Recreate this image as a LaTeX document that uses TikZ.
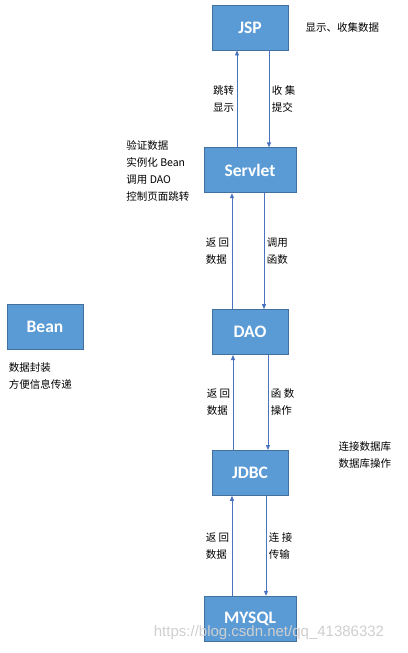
\documentclass[tikz,border=0pt]{standalone}
\usepackage{fontspec}
\setmainfont{Noto Sans CJK SC}
\newfontfamily\boxfont{Carlito}
\newfontfamily\markfont{Liberation Sans}
\usepackage{xcolor}
\usetikzlibrary{positioning, arrows.meta}
\definecolor{layerfill}{HTML}{5B9BD5}
\definecolor{layerdraw}{HTML}{41719C}
\definecolor{linkblue}{HTML}{4A72BE}
\definecolor{markgray}{HTML}{CFCFCF}

\begin{document}
\begin{tikzpicture}[
    x=1pt, y=1pt,
    every node/.style={font=\fontsize{10.5}{17}\selectfont, align=left, inner sep=0pt},
    layer/.style ={draw=layerdraw, fill=layerfill, line width=0.8pt, text=white,
                   font=\boxfont\bfseries\fontsize{17.5}{19}\selectfont, minimum height=45pt},
    narrow/.style={layer, minimum width=76pt},
    wide/.style  ={layer, minimum width=92pt},
    note/.style  ={text=black},
    tag/.style   ={note, inner sep=2.5pt},
    arrow/.style ={-{Triangle[length=5pt, width=4pt]}, line width=0.8pt, draw=linkblue},
    node distance=10pt
]
\useasboundingbox (0,0) rectangle (407,-653);

% ========== LAYERS ==========
\node[narrow] (jsp) at (250,-27.5) {JSP};
\node[wide,   below=97pt of jsp]     (servlet) {Servlet};
\node[narrow, below=116pt of servlet] (dao)    {DAO};
\node[narrow, below=95pt of dao]     (jdbc)    {JDBC};
\node[wide,   below=100pt of jdbc]   (mysql)   {MYSQL};
\node[narrow] (bean) at (45,-326.5) {Bean};

% ========== NOTES ==========
\node[note, right=17pt of jsp] (jspnote) {显示、收集数据};
\node[note, left=14pt of servlet, yshift=-1pt] (servletnote) {验证数据\\实例化 Bean\\调用 DAO\\控制页面跳转};
\node[note, below=13pt of bean.south west, anchor=north west, xshift=2pt] (beannote) {数据封装\\方便信息传递};
\node[note, right=50pt of jdbc, yshift=18pt] (jdbcnote) {连接数据库\\数据库操作};

% ========== ARROWS ==========
% Servlet <-> JSP
\draw[arrow] ([xshift=-13pt]servlet.north) -- node[tag, left]{跳转\\显示} ([xshift=-13pt]jsp.south);
\draw[arrow] ([xshift=19pt]jsp.south) -- node[tag, right]{收 集\\提交} ([xshift=19pt]servlet.north);

% DAO <-> Servlet
\draw[arrow] ([xshift=-18pt]dao.north) -- node[tag, left]{返 回\\数据} ([xshift=-18pt]servlet.south);
\draw[arrow] ([xshift=14pt]servlet.south) -- node[tag, right]{调用\\函数} ([xshift=14pt]dao.north);

% JDBC <-> DAO
\draw[arrow] ([xshift=-17pt]jdbc.north) -- node[tag, left]{返 回\\数据} ([xshift=-17pt]dao.south);
\draw[arrow] ([xshift=18pt]dao.south) -- node[tag, right]{函 数\\操作} ([xshift=18pt]jdbc.north);

% MYSQL <-> JDBC
\draw[arrow] ([xshift=-18pt]mysql.north) -- node[tag, left]{返 回\\数据} ([xshift=-18pt]jdbc.south);
\draw[arrow] ([xshift=16pt]jdbc.south) -- node[tag, right]{连 接\\传输} ([xshift=16pt]mysql.north);

% watermark
\node[text=markgray, font=\markfont\fontsize{15}{15}\selectfont] (mark) at (269,-633) {https://blog.csdn.net/qq\_41386332};

\end{tikzpicture}
\end{document}
